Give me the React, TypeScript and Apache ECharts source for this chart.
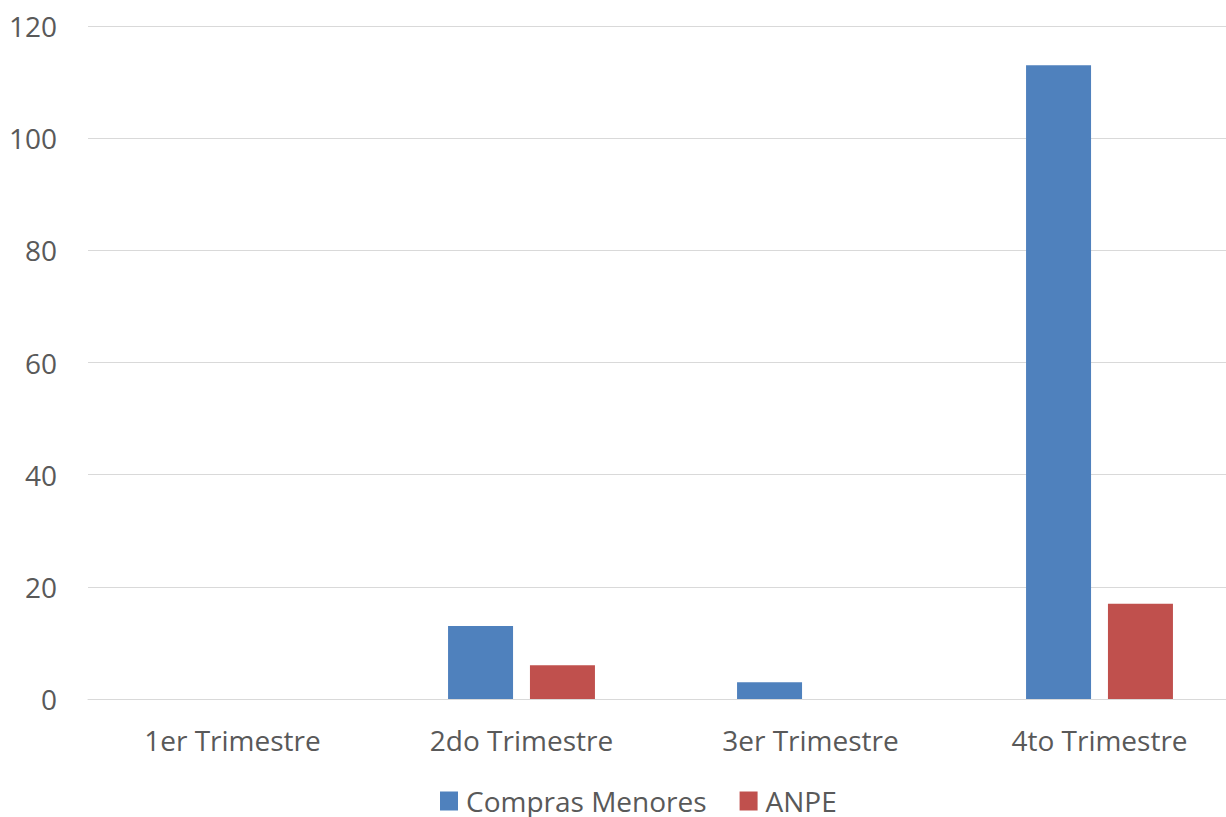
import React, { useEffect, useRef } from "react";
import * as echarts from "echarts";

const categories = ["1er Trimestre", "2do Trimestre", "3er Trimestre", "4to Trimestre"];
const comprasMenores = [0, 13, 3, 113];
const anpe = [0, 6, 0, 17];
const yTicks = { min: 0, max: 120, interval: 20 };

export default function App() {
  const ref = useRef<HTMLDivElement>(null);
  useEffect(() => {
    if (!ref.current) return;
    const chart = echarts.init(ref.current, undefined, { renderer: "svg" });
    const font = "'Open Sans', Calibri, sans-serif";
    chart.setOption({
      animation: false,
      backgroundColor: "#ffffff",
      textStyle: { fontFamily: font },
      grid: { left: 88, top: 26, width: 1156, bottom: 118, containLabel: false },
      legend: {
        left: 440,
        top: 786,
        padding: 0,
        itemWidth: 18,
        itemHeight: 19,
        itemGap: 33,
        icon: "rect",
        textStyle: { fontSize: 28, lineHeight: 30, color: "#595959", fontFamily: font, padding: [0, 0, 0, 3] },
        data: ["Compras Menores", "ANPE"],
      },
      xAxis: {
        type: "category",
        data: categories,
        axisLine: { lineStyle: { color: "#D9D9D9", width: 1 } },
        axisTick: { show: false },
        axisLabel: { fontSize: 28, color: "#595959", margin: 27, fontFamily: font },
      },
      yAxis: {
        type: "value",
        min: yTicks.min,
        max: yTicks.max,
        interval: yTicks.interval,
        axisLine: { show: false },
        axisTick: { show: false },
        splitLine: { lineStyle: { color: "#D9D9D9", width: 1 } },
        axisLabel: { fontSize: 28, color: "#595959", margin: 31, fontFamily: font },
      },
      series: [
        {
          name: "Compras Menores",
          type: "bar",
          data: comprasMenores,
          barWidth: 65,
          barGap: "26%",
          itemStyle: { color: "#4F81BD" },
        },
        {
          name: "ANPE",
          type: "bar",
          data: anpe,
          barWidth: 65,
          itemStyle: { color: "#C0504D" },
        },
      ],
    });
    return () => chart.dispose();
  }, []);
  return (
    <div style={{ position: "absolute", left: 0, top: 0, width: 1226, height: 817, overflow: "hidden" }}>
      <div ref={ref} style={{ width: 1250, height: 817 }} />
    </div>
  );
}
